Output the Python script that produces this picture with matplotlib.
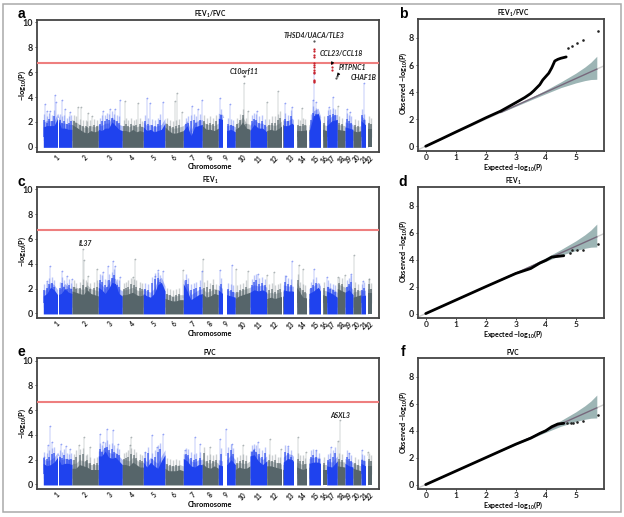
import numpy as np
import matplotlib
matplotlib.use("Agg")
import matplotlib.pyplot as plt
from matplotlib.patches import Rectangle

plt.rcParams['font.family'] = ['Lato', 'DejaVu Sans']
plt.rcParams['font.weight'] = 'bold'
plt.rcParams['mathtext.fontset'] = 'custom'
plt.rcParams['mathtext.rm'] = 'Lato:bold'
plt.rcParams['mathtext.bf'] = 'Lato:bold'
plt.rcParams['mathtext.it'] = 'Lato:italic:bold'
plt.rcParams['mathtext.default'] = 'regular'

W, H = 624, 517
CHR_LABELS = [str(i) for i in range(1, 23)]
CHR_EDGES = [43.3, 72, 98.3, 122.3, 143.3, 165, 183.3, 202.3, 218.3, 235.3, 250, 266.7,
             283.3, 296.7, 309, 322.7, 326.7, 337.3, 345, 353, 361, 367.7, 371.7]
GAPS = [(57.7, 59.3), (223.3, 227.3), (281.7, 283.3), (294.3, 296.7), (306.7, 309),
        (321.3, 322.7), (365.7, 367.7)]

SKY_A = [[1.7,1.8,1.8,1.8,2.4,1.6,1.6,1.5,1.5],[1.9,1.7,1.5,1.3,1.2,1.4,1.3,1.4],
         [1.5,1.4,1.6,1.6,2.1,1.8,1.5,1.4],[1.4,1.4,1.3,1.5,1.3,1.4,1.3],
         [1.7,1.4,1.5,1.3,1.4,1.5,2.0],[1.7,1.4,1.2,1.2,1.3,1.4],[1.4,1.8,1.0,1.7,1.8,1.9],
         [1.8,1.5,1.5,1.4,1.6],[2.4,2.3,1.4,1.5,1.3],[1.5,1.7,2.1,1.6,1.5],[1.4,1.9,1.6,1.6,1.3],
         [1.4,1.5,1.4,1.6,1.9],[1.8,1.8,2.0,1.5],[1.4,1.4,1.5],[1.3,2.6,2.8,1.5],[1.5,1.4],
         [1.8,2.2,2.3],[1.5,1.4],[1.7,1.6,1.5],[1.4,1.3,1.4],[2.2,1.7],[1.5,1.5]]
SKY_C = [[1.5,1.7,2.2,2.0,1.6,1.7,2.1,1.8,1.7],[1.9,1.8,1.7,1.6,2.0,1.7,1.6,1.5],
         [2.2,2.0,1.7,2.1,2.6,2.5,1.7,1.5],[1.6,1.6,1.7,1.8,1.6,1.5,1.6],
         [1.7,1.5,1.4,1.7,2.4,2.6,1.9],[1.3,1.2,1.1,1.1,1.2,1.2],[2.5,1.9,1.2,1.4,1.6,1.7],
         [1.7,1.4,1.5,1.7,1.6],[2.0,1.7,1.6,1.5,1.4],[1.3,1.5,1.6,1.7,1.8],[1.8,2.0,1.9,2.0,1.8],
         [1.3,1.4,1.3,1.4,1.5],[2.0,1.9,1.9,1.8],[2.2,1.4,1.3],[1.7,1.9,2.2,1.6],[1.6,1.5],
         [1.9,1.7,1.4],[2.1,1.8],[1.8,2.0,1.6],[1.4,1.5,1.6],[1.5,1.6],[1.7,1.7]]
SKY_E = [[1.8,1.6,1.7,1.9,2.3,1.7,1.8,1.8,1.7],[1.4,1.4,1.7,1.6,1.5,1.3,1.3,1.3],
         [2.4,2.4,2.8,2.3,2.2,2.3,2.0,1.7],[1.7,1.7,1.6,1.9,1.7,1.5,1.5],
         [1.9,1.5,1.9,1.6,1.4,2.0,2.5],[1.4,1.2,1.2,1.2,1.3,1.2],[2.2,2.0,1.6,1.5,1.7,1.7],
         [1.8,1.5,1.4,1.6,1.4],[1.7,1.6,1.7,2.1,1.7],[1.3,1.5,1.4,1.4,1.6],[2.4,2.5,2.0,1.7,2.0],
         [1.6,1.6,1.5,1.4,1.3],[1.9,2.2,2.1,1.6],[1.5,1.3,1.5],[1.8,1.9,1.9,1.7],[1.3,1.3],
         [1.6,1.5,2.0],[1.6,1.5],[1.8,1.6,1.5],[1.4,1.3,1.2],[1.8,1.5],[1.6,1.6]]

PEAK_POS_A = [45,46.7,50,55,55.7,61.7,65,70,78,81,88,92,103,110,115,120,125,138,147,150,163,177,175,
              182,192,198,202,220,230,244.3,248,257,267,278,285,292,302,314.3,313,316,329,333,338,
              346.7,350,364.3]
PEAK_TOP_A = [3.4,2.9,2.9,4.2,3.6,3.8,3.0,2.8,3.2,3.2,2.7,2.5,2.9,3.0,3.0,3.8,3.7,3.5,3.9,3.5,3.6,4.3,3.7,
              2.8,3.3,3.0,3.8,3.9,3.4,5.1,2.9,2.9,3.6,4.5,3.5,3.2,3.1,5.9,3.8,3.6,3.2,4.0,3.3,
              3.0,2.8,5.1]
PEAK_POS_C = [47,50,62,67,72,83,84,88,97,103,108,113,115,120,135,133,155,158,163,183,203,202,220,232,236,
              248,258,267,274,292,286,299,303,314,327,338,345,351,354,363,369]
PEAK_TOP_C = [2.6,3.8,3.4,3.0,2.8,5.2,4.3,3.0,3.6,3.3,3.8,4.2,3.8,2.9,4.4,2.9,3.0,3.5,3.4,3.5,4.4,3.4,3.5,3.9,3.6,
              3.4,3.2,3.1,3.3,4.2,3.0,3.9,3.6,3.6,2.9,2.9,3.1,3.2,4.7,2.6,2.8]
PEAK_POS_E = [44,48,50,52,61,66,70,84,79,90,100,103,107,113,118,131,130,145,152,157,163,185,195,200,210,
              220,226,232,243,258,254,270,281,288,298,306,316,331,340,338,349,362,368]
PEAK_TOP_E = [2.2,3.2,4.7,3.4,3.3,3.1,2.9,3.8,3.2,3.0,4.1,3.4,4.5,4.4,3.3,3.8,3.2,2.6,4.0,3.0,4.1,2.8,3.8,3.3,3.0,
              3.7,4.5,3.3,3.2,3.4,2.9,3.7,2.9,3.1,3.8,2.6,2.8,3.0,5.2,3.5,2.5,2.8,2.6]

SHORT_POS = [44.5,47.5,49.5,52,54,60,62.5,64,66.5,68.5,71,74,76,79.5,83,85.5,87,90,94,96.5,
             100,102,105,107,109,112,114,117,119,123.5,126,128,131,134,136,140,142,145,148,152,
             155,158,160,167,170,173,176,179,186,188,191,194,196,200,204,207,210,213,216,221,
             228,231,233,237,240,243,246,252,254,256,259,262,265,269,272,275,278,280,285,288,
             291,298,300,303,305,311,313,316,319,324,328,330,333,335,339,342,347,349,351,355,
             358,362,364,369,370.5]
SHORT_A = [2.5,2.3,2.6,2.4,2.8,2.5,2.3,2.4,2.2,2.3,2.4,2.4,2.3,2.1,2.0,2.0,1.9,2.0,2.1,2.0,
           2.2,2.4,2.4,2.6,2.5,2.7,2.5,2.4,2.3,2.0,2.2,2.0,2.2,2.0,2.1,2.2,1.9,2.4,2.2,2.1,
           2.0,2.2,2.5,2.2,2.0,1.9,2.0,2.1,2.2,2.3,2.4,2.5,2.3,2.5,2.4,2.2,2.3,2.2,2.4,2.9,
           2.2,2.1,2.0,2.2,2.5,2.9,2.2,2.4,2.6,2.5,2.3,2.4,2.1,2.1,2.3,2.3,2.5,2.7,2.6,2.4,
           2.8,2.1,2.0,2.2,2.1,2.5,3.1,3.0,2.4,2.3,2.8,2.9,3.0,2.9,2.3,2.2,2.6,2.4,2.3,2.1,
           2.0,2.9,2.5,2.3,2.2]
SHORT_C = [2.2,2.4,2.7,2.8,2.5,2.4,2.8,2.5,2.3,2.6,2.3,2.5,2.3,2.4,2.6,2.5,2.4,2.3,2.4,2.5,
           3.0,2.9,2.6,2.5,3.0,3.2,3.4,2.6,2.5,2.3,2.4,2.5,2.7,2.6,2.5,2.4,2.3,2.3,2.2,2.8,
           3.1,3.2,2.9,1.9,1.8,1.7,1.8,1.9,3.0,2.7,2.2,2.3,2.4,2.5,2.4,2.5,2.3,2.6,2.2,2.7,
           2.3,2.2,2.1,2.1,2.2,2.3,2.5,2.6,2.9,3.0,2.7,2.8,2.6,2.2,2.3,2.1,2.2,2.3,2.9,2.7,
           2.6,3.0,2.4,2.2,2.1,2.4,2.6,2.8,2.3,2.4,2.5,2.3,2.2,2.1,2.8,2.7,2.5,2.7,2.9,2.4,
           2.2,2.2,2.4,2.7,2.3]
SHORT_E = [2.5,2.4,2.6,2.8,2.9,2.6,2.5,2.7,2.4,2.3,2.4,2.3,2.6,2.7,2.8,2.2,2.3,2.1,2.0,2.1,
           3.2,3.0,3.3,3.4,3.1,3.2,3.0,2.8,2.7,2.4,2.5,2.6,2.8,2.7,2.5,2.3,2.2,2.5,2.9,2.4,
           2.6,3.0,3.2,2.0,1.9,1.8,1.9,1.8,2.8,2.7,2.5,2.3,2.4,2.5,2.9,2.2,2.3,2.2,2.3,2.8,
           2.9,3.1,2.8,2.1,2.2,2.3,2.2,3.0,3.1,3.0,2.8,2.6,2.9,2.3,2.2,2.3,2.1,2.1,3.0,2.9,
           2.6,2.4,2.2,2.2,2.0,2.6,2.7,2.6,2.4,2.1,2.3,2.4,2.6,2.9,2.4,2.3,2.6,2.4,2.2,2.1,
           1.9,2.3,2.2,2.4,2.2]

SIG_POS_A = [314.3]*13 + [331.7]*3
SIG_VAL_A = [7.9,7.7,7.4,7.2,6.7,6.6,6.4,6.2,6.0,5.9,5.4,5.3,5.2, 6.7,6.4,6.2]
TOP_POS_A = [314.3, 244.3, 336.7, 336.3]
TOP_VAL_A = [8.5, 5.7, 5.7, 5.5]

GW_LINE = 6.7

QQ_X_A = [0,0.5,1,1.5,2,2.5,3,3.3,3.5,3.6,3.8,3.9,4,4.1,4.2,4.3,4.4,4.5,4.68]
QQ_Y_A = [0,0.52,1.05,1.57,2.1,2.6,3.22,3.6,3.9,4.1,4.55,4.9,5.15,5.4,5.8,6.3,6.42,6.5,6.6]
QQ_TX_A = [4.75,4.88,5.03,5.24,5.73]
QQ_TY_A = [7.28,7.4,7.6,7.88,8.5]
QQ_X_C = [0,1,2,3,3.5,3.8,4,4.2,4.4,4.6]
QQ_Y_C = [0,1,2,2.98,3.35,3.75,3.95,4.2,4.25,4.3]
QQ_TX_C = [4.8,4.88,5.03,5.24,5.73]
QQ_TY_C = [4.5,4.75,4.75,4.7,5.15]
QQ_X_E = [0,1,2,3,3.5,3.8,4,4.2,4.4,4.6]
QQ_Y_E = [0,1,2,3.0,3.45,3.8,4.0,4.3,4.5,4.55]
QQ_TX_E = [4.72,4.83,4.9,5.03,5.24,5.73]
QQ_TY_E = [4.55,4.55,4.58,4.65,4.7,5.15]
BAND_X = [2.5,3,3.5,4,4.5,5,5.3,5.5,5.7]
BAND_LO = [2.48,2.95,3.42,3.88,4.33,4.68,4.85,4.93,4.95]
BAND_HI = [2.52,3.05,3.58,4.15,4.75,5.4,5.85,6.2,6.65]

BLUE, GRAY, DARK = '#1f42ee', '#56656a', '#444444'


def box(left, top, right, bottom):
    return [left/W, 1-bottom/H, (right-left)/W, (bottom-top)/H]


def style(ax):
    for s in ax.spines.values():
        s.set_linewidth(1.3)
        s.set_color(DARK)
    ax.tick_params(length=1.5, width=0.7, color=DARK, labelsize=6.5, pad=1.5, labelcolor='#222222')


def chrom_color(p):
    j = int(np.searchsorted(CHR_EDGES, p))-1
    return BLUE if j % 2 == 0 else GRAY


def manhattan(top, bottom, sky, short, ppos, ptop, title, xlab_y):
    ax = fig.add_axes(box(37, top, 379, bottom))
    style(ax)
    centers = []
    for i, vals in enumerate(sky):
        c = BLUE if i % 2 == 0 else GRAY
        x = np.linspace(CHR_EDGES[i], CHR_EDGES[i+1], len(vals))
        v = np.array(vals)
        ax.fill_between(x, 0.5, v+0.3, color=c, alpha=0.35, lw=0, zorder=1)
        ax.fill_between(x, -0.05, v-0.1, color=c, lw=0, zorder=2)
        centers.append((CHR_EDGES[i]+CHR_EDGES[i+1])/2)
    for p, t in zip(SHORT_POS, short):
        c = chrom_color(p)
        ax.vlines(p, 0.8, t-0.35, color=c, lw=1.3, alpha=0.65, zorder=2)
        ax.vlines(p, 0.8, t+0.15, color=c, lw=1.0, alpha=0.3, zorder=2)
    for p, t in zip(ppos, ptop):
        c = chrom_color(p)
        ax.vlines(p, 1.2, t, color=c, lw=1.1, alpha=0.17, zorder=3)
        ax.scatter([p], [t], s=1.6, color=c, alpha=0.4, lw=0, zorder=3)
    for a, b in GAPS:
        ax.add_patch(Rectangle((a, -0.3), b-a, 2.6, color='white', lw=0, zorder=4))
    ax.axhline(GW_LINE, color='#ee7f7f', lw=1.5, zorder=5)
    ax.set_xlim(37, 379)
    ax.set_ylim(-0.4, 10.2)
    ax.set_yticks([0, 2, 4, 6, 8, 10])
    ax.set_xticks(centers)
    ax.set_xticklabels(CHR_LABELS, rotation=45, fontsize=4.8)
    ax.tick_params(axis='x', length=0, pad=1.5)
    fig.text(210/W, 1-(top-6)/H, title, ha='center', va='center', fontsize=4.8)
    fig.text(210/W, 1-xlab_y/H, 'Chromosome', ha='center', va='center', fontsize=5.3)
    fig.text(22/W, 1-(top+65)/H, '−log$_{10}$(P)', rotation=90, ha='center', va='center', fontsize=5.4)
    return ax


def qq(top, bottom, xs, ys, tx, ty, title, xlab_y):
    ax = fig.add_axes(box(418, top, 604, bottom))
    style(ax)
    ax.plot([-0.26, 5.94], [-0.26, 5.94], color='#cfcfcf', lw=1, zorder=1)
    ax.fill_between(BAND_X, BAND_LO, BAND_HI, color='#9db5b5', lw=0, zorder=2)
    ax.plot([2.5, 5.7], [2.5, 5.7], color='#77687c', lw=1, zorder=3)
    ax.plot(xs, ys, color='black', lw=2.0, solid_capstyle='round', zorder=4)
    ax.scatter(tx, ty, s=3.5, color='#222222', lw=0, zorder=4)
    ax.set_xlim(-0.257, 5.94)
    ax.set_ylim(-0.35, 9.38)
    ax.set_xticks([0, 1, 2, 3, 4, 5])
    ax.set_yticks([0, 2, 4, 6, 8])
    ax.tick_params(axis='x', pad=0.5, labelsize=6)
    fig.text(513/W, 1-(top-6)/H, title, ha='center', va='center', fontsize=4.8)
    fig.text(513/W, 1-xlab_y/H, 'Expected −log$_{10}$(P)', ha='center', va='center', fontsize=5)
    fig.text(403/W, 1-(top+64)/H, 'Observed −log$_{10}$(P)', rotation=90, ha='center', va='center', fontsize=5.2)
    return ax


fig = plt.figure(figsize=(W/100, H/100), dpi=100)
fig.add_artist(Rectangle((3.3/W, 1-512/H), 617.7/W, 507.7/H, transform=fig.transFigure,
                         fill=False, ec='#a9a9a9', lw=1.1))

FEV_RATIO, FEV1, FVC = 'FEV$_1$/FVC', 'FEV$_1$', 'FVC'
axa = manhattan(20, 151.7, SKY_A, SHORT_A, PEAK_POS_A, PEAK_TOP_A, FEV_RATIO, 166.5)
axa.scatter(SIG_POS_A, SIG_VAL_A, s=2.6, color='#c8242e', lw=0, zorder=6)
axa.scatter(TOP_POS_A, TOP_VAL_A, s=2.6, color='#555555', lw=0, zorder=6)
manhattan(186.7, 318.3, SKY_C, SHORT_C, PEAK_POS_C, PEAK_TOP_C, FEV1, 333.5)
manhattan(358.3, 489.3, SKY_E, SHORT_E, PEAK_POS_E, PEAK_TOP_E, FVC, 504.5)
qq(19.3, 151, QQ_X_A, QQ_Y_A, QQ_TX_A, QQ_TY_A, FEV_RATIO, 167)
qq(187.3, 318.3, QQ_X_C, QQ_Y_C, QQ_TX_C, QQ_TY_C, FEV1, 334.5)
qq(358.3, 489.3, QQ_X_E, QQ_Y_E, QQ_TX_E, QQ_TY_E, FVC, 505.5)

GENE_TEXT = ['THSD4/UACA/TLE3', 'CCL23/CCL18', 'PITPNC1', 'C10orf11', 'CHAF1B', 'IL37', 'ASXL3']
GENE_X = [314, 341, 352, 244, 364, 85, 340]
GENE_Y = [36, 54, 68, 71, 78, 244, 415]
for t, x, y in zip(GENE_TEXT, GENE_X, GENE_Y):
    fig.text(x/W, 1-y/H, t, style='italic', ha='center', va='center', fontsize=5, color='#222222')

for (tx, ty), (hx, hy) in [((333.5, 60.5), (331, 65)), ((339.5, 72.5), (335.5, 78.5))]:
    fig.add_artist(matplotlib.patches.FancyArrowPatch(
        (tx/W, 1-ty/H), (hx/W, 1-hy/H), transform=fig.transFigure, arrowstyle='-|>',
        mutation_scale=4, lw=0.6, color='black'))

PANEL_TEXT = ['a', 'b', 'c', 'd', 'e', 'f']
PANEL_X = [21, 403, 21, 403, 21, 403]
PANEL_Y = [14, 14, 182, 182, 352, 352]
for t, x, y in zip(PANEL_TEXT, PANEL_X, PANEL_Y):
    fig.text(x/W, 1-y/H, t, ha='center', va='center', fontsize=10, family='Liberation Sans', weight='bold')

fig.savefig('out.png', dpi=100)
